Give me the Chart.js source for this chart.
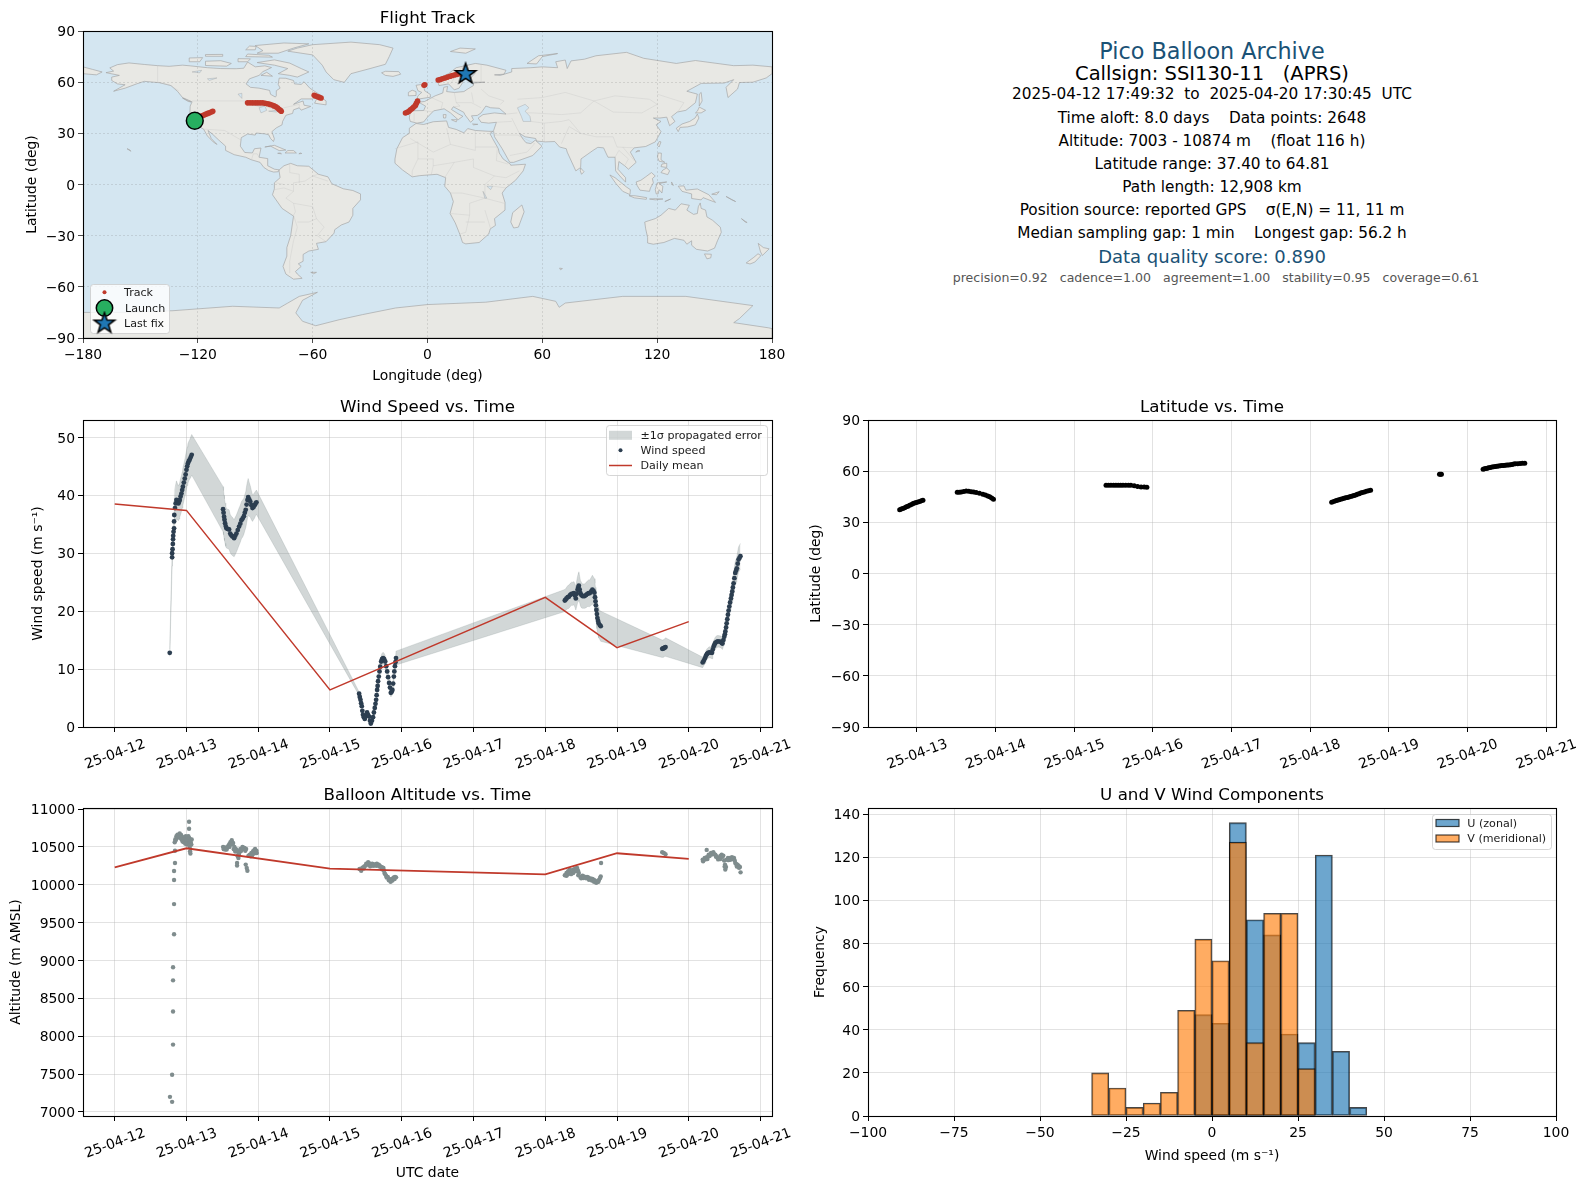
<!DOCTYPE html>
<html>
<head>
<meta charset="utf-8">
<script src="https://cdn.jsdelivr.net/npm/chart.js@4/dist/chart.umd.js"></script>
<style>
  html, body { margin: 0; padding: 0; background: #fff; }
  body { width: 1588px; height: 1189px; position: relative; overflow: hidden; font-family: "DejaVu Sans", sans-serif; }
  canvas { position: absolute; }
  .info { position: absolute; left: 812px; width: 800px; text-align: center; white-space: pre; line-height: 24px; height: 24px; }
</style>
</head>
<body>
<canvas id="mapChart"></canvas>
<canvas id="windChart"></canvas>
<canvas id="altChart"></canvas>
<canvas id="latChart"></canvas>
<canvas id="histChart"></canvas>
<div id="info"></div>
<script>
// ---- text block ----
const infoLines = [
  'Pico Balloon Archive',
  'Callsign: SSI130-11   (APRS)',
  '2025-04-12 17:49:32  to  2025-04-20 17:30:45  UTC',
  'Time aloft: 8.0 days    Data points: 2648',
  'Altitude: 7003 - 10874 m    (float 116 h)',
  'Latitude range: 37.40 to 64.81',
  'Path length: 12,908 km',
  'Position source: reported GPS    \u03c3(E,N) = 11, 11 m',
  'Median sampling gap: 1 min    Longest gap: 56.2 h',
  'Data quality score: 0.890',
  'precision=0.92   cadence=1.00   agreement=1.00   stability=0.95   coverage=0.61'
];

// ---- flight track, [lon, lat] ----
const trackPoints = [
  [-121.6,37.4],[-119.5,39],[-118.3,40],[-117.4,40.5],[-116.5,40.9],[-115.7,41.3],[-114.8,41.7],[-113.9,42.1],[-113,42.5],[-112.2,42.9],
  [-94,47.9],[-92.7,47.9],[-91.4,47.9],[-90,47.9],[-88.7,47.9],[-87.4,47.9],[-86.1,47.9],[-84.8,47.7],[-83.5,47.4],[-82.4,47],[-81.3,46.6],[-80.2,46.1],[-79.2,45.6],[-78.3,44.8],[-77.5,44],[-76.9,43.5],[-76.4,43],
  [-59.2,52.3],[-58.3,51.9],[-57.5,51.5],[-56.5,51.1],[-55.6,50.7],
  [-11.5,41.9],[-10.6,42.4],[-9.7,43],[-8.9,43.8],[-8,44.6],[-7.2,45.5],[-6.3,46.4],[-5.8,47.6],[-5.2,48.9],
  [-1.8,58.2],[-1.4,58.5],
  [5.6,61.3],[6.7,61.6],[7.8,62],[9.1,62.5],[10.5,63],[11.8,63.5],[13,63.9],[14.4,64.3],[15.7,64.6],[17.8,64.7],[19.9,64.8]
];
const launchPoint = [-121.6, 37.4];
const lastFixPoint = [19.9, 64.81];

// ---- wind speed, [day of April, m/s, sigma] ----
const windPoints = [
  [12.767,12.8,.6],[12.8,29.3,1.5],[12.8,30,1.5],[12.806,30.7,1.5],[12.81,31.6,1.5],[12.813,32.4,1.5],[12.815,33,1.5],[12.82,33.7,1.6],[12.827,34.3,1.6],[12.827,35.5,1.8],[12.83,36.6,2.2],[12.84,37.8,3],[12.849,38.6,3.2],[12.86,39.2,3.3],[12.875,38.9,3.1],[12.888,38.6,3],[12.897,38.9,3],[12.906,39.2,3],[12.918,39.8,3.1],[12.93,40.3,3.1],[12.94,40.9,3.1],[12.95,41.5,3.2],[12.963,42.2,3.2],[12.976,42.9,3.2],[12.988,43.6,3.3],[13,44.4,3.3],[13.01,45,3.3],[13.02,45.5,3.4],[13.032,45.9,3.4],[13.045,46.2,3.4],[13.06,46.6,3.5],[13.073,47,3.5],
  [13.51,37.6,3.9],[13.517,37,3.8],[13.524,36.3,3.7],[13.53,35.8,3.6],[13.538,35.2,3.5],[13.547,34.7,3.5],[13.557,34.3,3.4],[13.575,34.2,3.4],[13.594,34.1,3.4],[13.61,33.4,3.3],[13.625,33.1,3.3],[13.64,32.9,3.3],[13.664,32.6,3.2],[13.68,33,3.2],[13.696,33.4,3.2],[13.715,34,3.2],[13.733,34.6,3.2],[13.75,35.1,3.2],[13.766,35.7,3.2],[13.783,36,3.2],[13.8,36.4,3.1],[13.813,37,3.1],[13.826,37.5,3.1],[13.838,38.4,3.2],[13.85,39.2,3.2],[13.86,39.7,3.2],[13.875,39.3,2.9],[13.89,38.9,2.7],[13.905,38.3,2.5],[13.92,37.8,2.3],[13.935,38,2.2],[13.95,38.3,2.2],[13.963,38.6,2.1],[13.975,38.8,2.1],
  [15.406,5.75,.3],[15.415,5.2,.3],[15.425,4.7,.3],[15.434,4.1,.3],[15.443,3.6,.3],[15.451,2.8,.3],[15.46,2.1,.3],[15.472,1.7,.3],[15.485,1.4,.3],[15.5,1.9,.3],[15.517,2.5,.3],[15.53,2.1,.3],[15.545,1.8,.3],[15.558,1.1,.3],[15.569,.6,.3],[15.585,1.1,.3],[15.6,1.7,.3],[15.612,2.5,.4],[15.624,3.3,.4],[15.634,4,.5],[15.643,4.7,.5],[15.65,5.5,.6],[15.657,6.4,.6],[15.664,7.1,.7],[15.67,7.9,.7],[15.68,8.7,.8],[15.69,9.6,.9],[15.7,10.4,.9],[15.713,11.3,1],[15.725,11.7,1],[15.74,11.9,1],[15.755,11.7,1],[15.77,11.3,1],[15.783,10.5,1],[15.797,9.6,.9],[15.81,8.6,.9],[15.824,7.6,.8],[15.836,6.8,.8],[15.848,5.9,.7],[15.86,6.1,.7],[15.87,6.4,.7],[15.88,7.5,.8],[15.89,8.7,.9],[15.897,9.6,.9],[15.905,10.5,1],[15.912,11.2,1],[15.92,11.9,1.2],
  [18.273,21.84,1.9],[18.285,22,1.9],[18.296,22.2,1.9],[18.313,22.4,2],[18.33,22.5,2],[18.348,22.8,2],[18.366,23,2],[18.383,23,2],[18.4,23.1,2],[18.413,22.7,2],[18.426,22.2,2],[18.438,23,2.2],[18.45,23.7,2.3],[18.46,24.1,2.4],[18.468,24.4,2.4],[18.48,23.7,2.3],[18.49,23.1,2.2],[18.503,22.8,2.2],[18.518,22.6,2.1],[18.535,22.6,2.1],[18.55,22.6,2.1],[18.57,22.8,2.2],[18.588,23,2.2],[18.605,23.1,2.3],[18.62,23.1,2.3],[18.64,23.4,2.4],[18.657,23.7,2.5],[18.672,23.5,2.4],[18.685,23.2,2.4],[18.693,22.4,2.4],[18.7,21.7,2.4],[18.706,21,2.4],[18.713,20.2,2.4],[18.72,19.5,2.5],[18.727,18.8,2.5],[18.736,18.3,2.5],[18.745,17.9,2.5],[18.76,17.6,2.5],[18.773,17.4,2.6],
  [19.63,13.5,1.5],[19.642,13.55,1.5],[19.653,13.6,1.5],[19.665,13.7,1.5],[19.676,13.8,1.6],
  [20.194,11.15,.9],[20.21,11.5,.9],[20.227,11.9,.9],[20.24,12.3,.9],[20.255,12.6,.9],[20.27,12.8,.9],[20.287,12.9,.95],[20.305,12.85,.95],[20.324,12.8,1],[20.335,13.4,1],[20.347,13.9,1],[20.358,14.2,1],[20.37,14.5,1],[20.388,14.7,1.05],[20.407,14.8,1],[20.43,14.75,1],[20.449,14.7,1],[20.46,14.5,1],[20.47,14.4,1],[20.483,15,1.05],[20.495,15.6,1.1],[20.503,16,1.1],[20.51,16.5,1.1],[20.52,17.2,1.2],[20.528,17.9,1.2],[20.537,18.6,1.3],[20.546,19.4,1.4],[20.555,20.1,1.4],[20.565,20.8,1.5],[20.576,21.5,1.5],[20.588,22.2,1.6],[20.597,22.8,1.7],[20.606,23.4,1.7],[20.615,24.1,1.8],[20.625,24.8,1.8],[20.636,25.7,1.9],[20.648,26.6,2],[20.66,27,2],[20.67,27.4,2],[20.682,28.2,2.1],[20.694,28.9,2.2],[20.707,29.2,2.2],[20.72,29.5,2.2]
];
const windDailyMean = [[12,38.5],[13,37.4],[15,6.4],[18,22.4],[19,13.7],[20,18.2]];

// ---- altitude, [day of April, m] ----
const altPoints = [
  [12.77,7200],[12.8,7134],[12.8,7492],[12.813,7890],[12.813,8327],[12.813,8738],[12.813,8910],[12.827,9347],[12.827,9745],[12.827,10063],[12.827,10182],[12.84,10288],[12.84,10450],
  [13.036,10831],[13.036,10739],
  [12.836,10562],[12.85,10588],[12.869,10619],[12.888,10650],[12.906,10677],[12.925,10659],[12.943,10632],[12.962,10606],[12.98,10575],[12.999,10553],[13.008,10531],[13.018,10597],[13.027,10553],[13.036,10619],[13.055,10597],[13.073,10597],[13.046,10500],[13.05,10443],[13.055,10412],[12.99,10641],[13.027,10641],[12.95,10590],[12.97,10620],[13.005,10600],[13.045,10580],
  [12.845,10600],[12.86,10640],[12.875,10660],[12.895,10640],[12.915,10620],[12.93,10600],[12.945,10570],[12.965,10560],[12.985,10540],[13,10600],[13.015,10630],[13.06,10560],[13.068,10530],
  [13.51,10500],[13.525,10490],[13.538,10491],[13.552,10490],[13.566,10491],[13.58,10510],[13.594,10531],[13.612,10562],[13.631,10588],[13.65,10553],[13.668,10500],[13.687,10473],[13.7,10460],[13.715,10443],[13.733,10412],[13.752,10473],[13.78,10500],[13.795,10490],[13.808,10487],[13.831,10473],[13.715,10376],[13.724,10354],[13.705,10288],[13.705,10253],[13.826,10266],[13.84,10222],[13.849,10186],[13.882,10398],[13.905,10420],[13.928,10443],[13.956,10473],[13.975,10451],[13.966,10420],[13.928,10412],[13.945,10455],[13.865,10385],
  [13.52,10470],[13.54,10465],[13.56,10465],[13.6,10500],[13.62,10535],[13.64,10535],[13.66,10470],[13.68,10440],[13.725,10400],[13.76,10445],[13.79,10470],[13.82,10450],[13.895,10375],[13.915,10390],[13.94,10415],[13.96,10445],[13.98,10420],
  [15.412,10208],[15.435,10186],[15.449,10222],[15.465,10232],[15.481,10244],[15.505,10279],[15.532,10297],[15.56,10266],[15.588,10279],[15.62,10253],[15.653,10279],[15.68,10266],[15.713,10235],[15.745,10222],[15.759,10155],[15.782,10120],[15.806,10102],[15.829,10076],[15.852,10058],[15.875,10085],[15.907,10102],[15.921,10098],[15.545,10285],[15.605,10270],[15.635,10268],[15.695,10250],[15.73,10228],[15.77,10140],[15.89,10095],
  [15.47,10215],[15.5,10255],[15.525,10270],[15.56,10245],[15.6,10250],[15.65,10250],[15.69,10240],[15.725,10205],[15.75,10190],[15.79,10095],[15.82,10060],[15.845,10040],[15.87,10055],[15.9,10075],
  [18.273,10125],[18.296,10155],[18.319,10178],[18.343,10200],[18.366,10164],[18.389,10200],[18.417,10217],[18.444,10222],[18.468,10155],[18.491,10102],[18.519,10120],[18.551,10102],[18.583,10102],[18.62,10085],[18.657,10076],[18.69,10058],[18.722,10036],[18.75,10067],[18.773,10111],[18.778,10288],[18.296,10120],[18.343,10155],[18.389,10155],[18.43,10180],[18.455,10190],[18.6,10095],[18.64,10080],[18.675,10066],[18.705,10048],[18.535,10110],
  [18.31,10135],[18.33,10150],[18.36,10140],[18.4,10175],[18.43,10195],[18.46,10125],[18.5,10085],[18.53,10090],[18.57,10085],[18.61,10065],[18.65,10055],[18.68,10040],[18.71,10025],[18.74,10040],[18.765,10090],
  [19.63,10429],[19.653,10420],[19.676,10403],
  [20.194,10332],[20.222,10354],[20.25,10363],[20.278,10398],[20.31,10420],[20.343,10429],[20.37,10398],[20.403,10354],[20.426,10354],[20.458,10398],[20.481,10385],[20.505,10266],[20.509,10200],[20.519,10235],[20.528,10332],[20.546,10354],[20.574,10354],[20.602,10363],[20.63,10354],[20.648,10288],[20.68,10266],[20.713,10235],[20.722,10164],[20.25,10460],[20.39,10375],[20.442,10380],[20.493,10320],[20.66,10275],[20.695,10250],
  [20.2,10310],[20.23,10335],[20.26,10340],[20.29,10380],[20.32,10400],[20.35,10405],[20.38,10370],[20.41,10335],[20.44,10340],[20.47,10370],[20.55,10325],[20.58,10330],[20.61,10340],[20.64,10320],[20.67,10240],[20.7,10225],[20.5,10240]
];
const altDailyMean = [[12,10230],[13,10482],[15,10213],[18,10138],[19,10416],[20,10341]];

// ---- latitude, [day of April, deg] ----
const latPoints = [
  [12.78,37.45],[12.8,37.8],[12.82,38.2],[12.843,38.6],[12.865,39.1],[12.885,39.5],[12.907,40],[12.93,40.5],[12.95,41],[12.97,41.4],[12.99,41.7],[13.012,42],[13.034,42.2],[13.055,42.6],[13.076,42.9],
  [13.512,47.6],[13.537,47.7],[13.563,47.8],[13.595,48.1],[13.626,48.4],[13.658,48.2],[13.69,48],[13.72,47.8],[13.753,47.5],[13.795,47],[13.838,46.5],[13.87,46],[13.9,45.5],[13.925,45],[13.95,44.3],[13.973,43.5],
  [15.404,51.8],[15.435,51.8],[15.467,51.8],[15.5,51.8],[15.53,51.8],[15.56,51.8],[15.59,51.8],[15.62,51.8],[15.655,51.8],[15.69,51.8],[15.72,51.8],[15.763,51.4],[15.806,51],[15.85,50.8],[15.89,50.7],[15.924,50.6],
  [18.274,41.8],[18.3,42.2],[18.325,42.7],[18.346,43],[18.367,43.3],[18.388,43.6],[18.41,43.9],[18.431,44.15],[18.452,44.4],[18.473,44.65],[18.494,44.9],[18.515,45.2],[18.537,45.5],[18.558,45.8],[18.58,46.1],[18.6,46.45],[18.622,46.8],[18.643,47.15],[18.663,47.5],[18.69,47.85],[18.716,48.2],[18.742,48.5],[18.769,48.8],
  [19.645,58.2],[19.658,58.2],[19.67,58.2],
  [20.2,61.2],[20.217,61.4],[20.235,61.6],[20.252,61.8],[20.27,62],[20.291,62.2],[20.313,62.4],[20.335,62.55],[20.356,62.7],[20.377,62.85],[20.398,63],[20.419,63.15],[20.44,63.3],[20.462,63.4],[20.483,63.5],[20.504,63.6],[20.525,63.7],[20.547,63.85],[20.568,64],[20.589,64.15],[20.61,64.3],[20.64,64.4],[20.67,64.5],[20.7,64.6],[20.73,64.7]
];

// ---- histogram, 5 m/s bins ----
const binCenters = [-32.5,-27.5,-22.5,-17.5,-12.5,-7.5,-2.5,2.5,7.5,12.5,17.5,22.5,27.5,32.5,37.5,42.5];
const uCounts = [0,0,0,0,0,0,47,43,136,91,84,38,34,121,30,4];
const vCounts = [20,13,4,6,11,49,82,72,127,34,94,94,22,0,0,0];

// ---- base map outlines, [lon, lat] ----
const landPolygons = [
  // North America
  [[-168,65.6],[-164,66.5],[-166,68.4],[-162,70.3],[-156,71.3],[-148,70.4],[-141,69.7],[-135,69.3],[-128,70],[-124,69.6],[-115,68.5],[-108,68],[-100,67.9],[-96,68.2],[-94,71.8],[-90,69],[-85,69.6],[-81.5,68.6],[-86,66.2],[-88,64],[-93,62],[-94.8,59],[-92.5,57],[-88,56.5],[-82.5,55.2],[-82,52.9],[-79.5,51.3],[-79,52],[-79,55],[-77,56.5],[-78,58.7],[-77.5,62.4],[-74,62.3],[-70,61],[-69.5,59],[-66,58.7],[-64.5,60.3],[-61.5,56.5],[-56,52.5],[-60,50.2],[-66,50.2],[-70,47],[-65,49],[-64.5,46.5],[-61,45.8],[-66,43.6],[-67,45],[-70,43.8],[-70.5,41.7],[-74,40.6],[-75.7,37],[-76,35],[-79,33.2],[-81.3,31],[-80,26.8],[-80.5,25.2],[-82,27],[-83,29.2],[-85,29.7],[-89.5,30.2],[-90,29],[-94,29.6],[-97.3,27.5],[-97.8,22.5],[-95.5,18.8],[-91.5,18.5],[-90.4,21],[-87,21.4],[-88,16],[-83.5,15.2],[-83.5,11],[-80,9],[-77.5,8.6],[-78,7.5],[-80.4,7.3],[-83,8.2],[-85.5,10],[-87.5,13],[-92,14.5],[-95,16],[-101,17.5],[-105.5,20],[-105.5,22.5],[-109,26],[-112.5,29.7],[-114.7,31.7],[-113,27],[-110,23.5],[-112,25],[-115,28.5],[-117,32.5],[-120.5,34.5],[-122.5,37.5],[-124.2,40.5],[-124,46],[-123,48.5],[-128,51],[-130.5,54.5],[-134,58],[-140,59.7],[-148,60.5],[-152,59],[-158,56.5],[-164,54.7],[-158,58.5],[-162,59],[-165,61],[-165,63],[-161,64]],
  // Arctic Canada
  [[-62,66],[-68,63],[-72,64],[-78,65],[-73,68],[-80,70],[-89,71.5],[-80,73.1],[-72,71.2],[-66,68]],
  [[-116,69.8],[-105,69.4],[-102.5,71],[-108,72.6],[-116,72.3]],
  [[-124.5,72],[-119,72],[-117.5,74.4],[-124.5,74.2]],
  [[-89,77],[-78,77],[-70,80],[-62,82.5],[-75,83],[-90,81.5],[-86,78.5]],
  [[-95,75],[-81,74.7],[-83,75.8],[-94,76.5]],
  [[-116,75.2],[-107,75.2],[-107,76.3],[-116,76.2]],
  [[-95,79],[-90,79],[-89.5,81],[-93,81.2]],
  [[-99,72],[-94,72],[-92.5,73.7],[-99,73.8]],
  [[-87,64],[-81,63.5],[-84,65.8]],
  [[-59,47.7],[-53,46.7],[-53,49],[-56,51.5],[-58,50]],
  [[-128,50.7],[-123.5,48.4],[-125,48.7]],
  // Greenland, Iceland
  [[-73,78.2],[-60,76],[-55,70],[-53,66],[-49,61.5],[-43.5,59.9],[-40,65],[-30,68],[-22,70.5],[-20,75],[-18,80],[-25,82],[-40,83.5],[-60,82],[-68,80]],
  [[-24,65.5],[-22,64],[-18,63.4],[-14,64.7],[-15,66.2],[-22,66.4]],
  // Caribbean
  [[-85,22],[-80,23],[-74,20.2],[-77.5,19.9],[-82,22.5]],
  [[-74.4,18.5],[-68.5,18.5],[-70,19.9],[-73,19.9]],
  [[-78.3,18.3],[-76.3,18],[-77,18.5]],
  [[-67.2,18],[-65.7,18.2],[-66.5,18.5]],
  // South America
  [[-77.5,8.6],[-75,11],[-71.5,12.4],[-68,11],[-62,10.7],[-57,6],[-52,4.5],[-50,.5],[-44,-2.5],[-39,-3.5],[-35,-5.5],[-35,-9],[-39,-14],[-39,-18],[-41,-22],[-45,-23.7],[-48.5,-26.5],[-48.8,-28.5],[-53,-33.5],[-58,-34.5],[-57,-38],[-62,-39],[-65,-41],[-65,-45],[-67.5,-46.5],[-66,-48],[-69,-51],[-68,-52.5],[-65.5,-55],[-70,-55.5],[-74,-52.5],[-75.5,-48],[-73.5,-42],[-73.5,-37],[-71.5,-30],[-70,-18.5],[-76,-14],[-81,-6],[-80,-2.5],[-80,1],[-77,4],[-77.5,7.5]],
  // Africa
  [[-6,35.8],[-2,35.2],[3,36.8],[10,37.3],[11,33.5],[15,32.3],[19,30.3],[21,32.8],[25,31.7],[32,31.2],[34.2,31.2],[32.6,29.9],[34,27],[37,21],[37.5,18.5],[39.5,15],[43.2,12],[43.5,11.3],[51.2,11.9],[50,8],[46,2.5],[41,-2],[39,-5],[40.5,-10.5],[40.5,-15],[35,-20],[35.5,-24],[32.8,-26],[32,-29],[27,-34],[20,-34.8],[18.3,-34],[17,-29.5],[14.5,-22.5],[11.8,-17],[13.5,-10],[12,-5],[9,-1],[9.5,4],[5,6],[-4,5.2],[-8,4.5],[-13,8.5],[-17,12.5],[-17,15],[-16,21],[-13,27.5],[-9.5,30],[-9.5,33]],
  // Eurasia
  [[-9,37],[-9.5,39],[-9,43.2],[-2,43.4],[-1,46],[-4.7,48.3],[-1.5,48.7],[1.5,50.5],[4,52],[8,53.7],[8.5,57],[10.5,57.5],[10,54.5],[14,54],[19,54.5],[21,56],[24,58],[24,59.5],[30,60],[23,60],[21.5,61],[25,65.5],[22,65.8],[17.5,62],[18.5,60],[16.5,56.5],[14,55.5],[11,59],[6,58],[5,62],[11,65],[15,68.5],[25,71],[31,70],[41,67],[40,64.7],[35,64.3],[38,64],[44,66],[44,68],[54,68.5],[60,69],[68,68.5],[67,72],[72,73],[73,68],[75,72.5],[82,73.5],[88,75.5],[104,77.5],[113,74],[130,71],[140,72.7],[160,69.7],[170,70],[180,69],[180,65],[177,62.5],[170,60],[163,59.8],[162,56],[157,51],[156,57],[160,61.5],[155,59.5],[143,59.3],[135.5,54.7],[141,53],[140,48],[135,43.5],[130.5,42.5],[127.5,39.8],[129.3,37],[126.5,34.5],[125,39.5],[121.5,39],[118,39],[122,37],[119.5,35],[122,31],[119,25],[114,22.3],[108,21.5],[106,19],[109,13],[105,9],[103,11],[100,13.5],[99.5,9],[103.5,4],[103.5,1.4],[100.5,5],[98.3,8],[98,16],[94.3,16],[92,21.5],[89,21.8],[86.5,20],[80.2,15],[80,10],[77.5,8],[73,19],[72.5,21],[69,22],[66.5,25.2],[61.5,25],[57,25.5],[56.5,27],[51,28],[48,30],[50,26.5],[51.5,24.5],[54,24],[56.3,26],[59.8,22.5],[55,17],[45,13],[43,13],[39,21],[35,28],[34.5,31.5],[36,36.5],[32,36],[28,36.5],[26.5,39],[29,41],[35,42],[41,41.3],[37.5,44.7],[33,45],[30.5,46],[28,42],[26,40.5],[23,40.3],[24,38],[22.5,36.5],[19.5,41],[19,42.3],[13.5,45.6],[12.5,44],[16,41.5],[18.5,40],[16,38],[12,42],[8.7,44.4],[3.2,43.2],[0,39.5],[-2,36.7],[-5.5,36]],
  [[-180,69],[-175,67.5],[-170,66],[-173,64.3],[-180,65]],
  // European islands
  [[-5.5,50],[1.5,51.2],[1.5,52.8],[-1.5,55],[-2,57.5],[-3.5,58.6],[-6,58.2],[-5,55],[-3,54],[-5,52]],
  [[-10,52],[-6,52.2],[-6,54.5],[-8,55.3],[-10,54]],
  [[12,78],[20,77],[25,79.5],[17,80]],
  [[52,71],[57,70.7],[60,75],[68,76.8],[58,75.5]],
  [[12.5,38],[15.5,38],[15,36.7]],
  [[8.2,41],[9.7,41],[9.5,39],[8.4,39]],
  [[23.5,35.5],[26.3,35.3],[24,35]],
  // Asia, Indian Ocean
  [[49.3,-12],[50.5,-16],[47.5,-25],[45,-25.5],[43.5,-22],[44.5,-16.5]],
  [[80,9.7],[81.8,7.5],[80.5,6],[79.8,8]],
  [[130,33],[131,31],[132,33.5],[136,33.8],[140,35],[141.8,39],[141,41.3],[139.8,39],[137,37],[133,35.5]],
  [[140,42],[143,42],[145.3,43.5],[142,45.4],[141,43]],
  [[142,46],[143.5,49],[143,54],[142,53]],
  [[120.2,23],[121,22],[122,25],[121,25.2]],
  [[108.8,19],[111,19.7],[110,20.1]],
  [[120.2,16],[120.5,18.5],[122.2,18.4],[122,14.5],[124,13],[121,13.7]],
  [[122,7],[125.5,5.8],[126.5,8],[125,9.7],[123,8.5]],
  [[122,10.5],[125,10],[125,12.5],[122.5,12]],
  [[95.3,5.6],[98,4],[104,-1.5],[106,-3],[105.8,-5.9],[102,-4],[98.5,.5]],
  [[105.3,-6.5],[108.5,-6.6],[114.5,-7.7],[114.3,-8.7],[108,-7.8]],
  [[109,1.5],[111.5,2.5],[114,4.5],[117,7],[119,5],[117.5,3.5],[118,1],[116.5,-2],[116,-4],[111,-3.3],[109.5,-.5]],
  [[119.5,-5.5],[119,-3],[120,1],[125,1.5],[121,.5],[123,-1],[122.5,-5],[121,-3],[120.5,-5.5]],
  [[131,-1],[134,-.8],[135,-3.3],[141,-2.6],[147,-6],[150.5,-10.5],[144,-7.7],[143,-9],[138,-8.2],[138,-5.5],[133,-4],[132,-2.5]],
  [[116,-8.5],[119,-8.3],[123,-8.5],[119,-9]],
  [[124,-10],[127,-8.5],[125,-9.5]],
  [[127.5,1.5],[128.5,-.5],[127.7,0]],
  [[148.5,-5.7],[152.4,-4.2],[151,-6]],
  [[156,-7],[161,-10],[159,-9]],
  [[164,-20],[167,-22.3],[166,-22]],
  // Australia, New Zealand
  [[113.5,-22],[114,-26],[115,-31],[115,-34.3],[118,-35],[123.5,-34],[129,-31.6],[134,-32.7],[135.5,-35],[138,-33],[138,-35.6],[140.5,-38],[146.4,-39],[150,-37.3],[151.5,-33],[153.5,-28],[153,-25],[149,-21],[146,-19],[145.3,-15],[143,-14],[142.5,-10.8],[141.5,-13],[141,-17],[139,-17.5],[135.5,-15],[136.8,-12.2],[132.5,-11.3],[129.5,-15],[126,-14],[122,-18],[119,-20],[114,-21.8]],
  [[144.7,-40.7],[148.3,-40.9],[148,-43],[146,-43.6]],
  [[172.8,-34.5],[175.5,-37],[178.5,-37.7],[175,-41.6],[174,-39.5]],
  [[172.7,-40.6],[174.2,-41.7],[171,-45.5],[168.5,-46.6],[166.5,-46],[170.5,-42.7]],
  [[69,-49],[70.5,-49.3],[69.5,-50]],
  [[-61,-51.5],[-58,-51.5],[-59.5,-52.3]],
  [[-157,21],[-155,19.5],[-155.5,20.3]],
  // Antarctica
  [[-180,-75],[-160,-75],[-133,-74],[-101.8,-71.4],[-77.5,-72.4],[-73,-69.5],[-67,-65.6],[-57.5,-63.2],[-65.3,-67.9],[-68.8,-75.3],[-65.3,-80.2],[-58.4,-82.8],[-46.2,-79.3],[-34,-76.3],[-16.7,-72.4],[0,-70.4],[30.5,-69],[55,-65.6],[67,-68.5],[68.8,-72],[72,-69.5],[102,-65.6],[135,-65.6],[170,-71],[163,-78.6],[160,-81],[178,-84],[180,-84.5],[180,-90],[-180,-90]]
];
const lakePolygons = [
  [[47,45],[51,47],[53,45],[51,43],[53.5,40],[54,37],[50,37],[49,40]],
  [[-92,46.7],[-85,47],[-85,46],[-88,46]],
  [[-88,45],[-85,46],[-84,43.5],[-87,42]],
  [[-83,43],[-79,43.5],[-76,44],[-79,42.5]],
  [[31,-1],[34,-1],[33,-3]],
  [[29,-4],[31,-8],[30,-8]],
  [[-123,66],[-118,67],[-119,65.5]],
  [[-115,62],[-110,62.5],[-114,61]],
  [[-99,53],[-97,53.5],[-97,50.5]]
];
const borderLines = [
  [[-123,49],[-95,49],[-89,48],[-82.5,45],[-79,43],[-75,45],[-67,47],[-67,45]],
  [[-141,70],[-141,60],[-135,58.5],[-130,55]],
  [[-117,32.5],[-106,31.7],[-97.3,26]],
  [[-92,14.5],[-91,18],[-89,18],[-88,16]],
  [[-60,5],[-64,2],[-70,1],[-70,-4],[-74,-8],[-70,-11],[-60,-13],[-58,-20],[-54,-25],[-57.6,-30],[-53,-33.5]],
  [[-52,2],[-60,5]],[[-57,6],[-60,5]],
  [[-70,-18],[-68,-25],[-70,-33],[-72,-45],[-72,-52]],
  [[-70,-11],[-69,-16],[-70,-18]],
  [[-72,12],[-72,7],[-67,6],[-67,1]],
  [[-58,-20],[-62,-22],[-68,-22]],
  [[-80,-3],[-75,-2],[-70,-4]],[[-79,1],[-75,0]],
  [[-9,27],[3,19],[12,23.5],[10,33]],
  [[12,23.5],[25,20],[25,31.7]],
  [[25,22],[36.5,22]],
  [[24,15],[24,10],[35,5],[41,4],[48,8]],
  [[-17,21],[-5,25],[-5,15],[3,15],[3,11],[14,13],[24,15]],
  [[14,13],[9,4]],[[3,11],[2,6]],[[-5,15],[-8,8],[-8,4.5]],
  [[12,-5],[18,-5],[30,-8],[30,0],[35,5]],
  [[30,-8],[22,-11],[22,-18],[12,-17]],
  [[22,-18],[20,-28],[17,-29]],
  [[30,-15],[33,-26]],[[20,-22],[30,-22]],[[30,-8],[40,-11]],[[34,-1],[41,-2]],
  [[36.5,22],[36,14],[42,12]],
  [[-2,43.4],[3,42.5]],[[-7,37],[-7,42]],
  [[2,51],[8,48],[7,44]],
  [[14,54],[15,48],[17,46],[13.5,45.6]],[[15,48],[23,48],[28,45]],[[23,54],[24,48]],
  [[28,60],[28,70]],[[12,59],[18,69]],
  [[28,56],[32,52],[40,49],[38,47]],
  [[47,42],[41,41.3]],
  [[47,50],[60,51],[72,54],[87,49],[80,42],[70,41],[55,42],[52,42]],
  [[87,49],[98,52],[116,50],[120,47],[112,42],[97,42.5],[87,49]],
  [[120,53],[134,48],[131,43]],
  [[74,38],[80,30],[88,28],[97,28],[99,22],[108,21.5]],
  [[74,34],[70,24]],[[80,30],[74,34]],
  [[44,39],[48,30]],[[61,36],[61,25]],[[54,37],[61,36],[70,37],[74,38]],
  [[35,29],[47,29],[56,24],[52,19],[43,17]],
  [[36,36.5],[44,37]],
  [[98,16],[100,20],[105,15],[103,11]],[[102,22],[108,14]]
];

// ---- axis ticks ----
const lonStep = 60, latStep = 30, dayStep = 1, windStep = 10, countStep = 20, speedStep = 25;
const altTicks = [7000,7500,8000,8500,9000,9500,10000,10500,11000];

// ---- layout ----
const PANELS = {
  mapChart:  { l: 83,  t: 31,  r: 772,  b: 338,  titleX: 32.5, xH: 47 },
  windChart: { l: 83,  t: 420, r: 772,  b: 727,  titleX: 38.5, xH: 62 },
  altChart:  { l: 83,  t: 808, r: 772,  b: 1116, titleX: 16.5, xH: 66 },
  latChart:  { l: 868, t: 420, r: 1556, b: 727,  titleX: 816,  xH: 62 },
  histChart: { l: 868, t: 808, r: 1556, b: 1116, titleX: 820,  xH: 49 }
};
const TITLE_H = 28, RIGHT_PAD = 31;
const INFO_STYLE = [
  [22.3, '#1a5276', 50.7],[19.5, '#000', 73.8],[15.3, '#000', 94.3],[15.3, '#000', 117.6],[15.3, '#000', 140.9],
  [15.3, '#000', 164],[15.3, '#000', 186.5],[15.3, '#000', 209.8],[15.3, '#000', 233.1],[18, '#1a5276', 257.4],[12.55, '#555', 277.7]
];
const COL = {
  red: '#c0392b', navy: '#2c3e50', grey: '#7f8c8d', green: '#27ae60', blue: '#1f77b4',
  ocean: '#d4e6f1', land: '#e8e8e4', coast: 'rgba(160,160,160,0.8)', border: 'rgba(190,190,190,0.5)',
  grid: 'rgba(176,176,176,0.36)', band: 'rgba(127,140,141,0.35)', bandEdge: 'rgba(127,140,141,0.22)',
  histU: 'rgba(31,119,180,0.65)', histV: 'rgba(255,127,14,0.65)', histEdge: 'rgba(0,0,0,0.72)'
};

Chart.defaults.font.family = '"DejaVu Sans", sans-serif';
Chart.defaults.font.size = 13.9;
Chart.defaults.color = '#000';
Chart.defaults.animation = false;

const toXY = list => list.map(p => ({ x: p[0], y: p[1] }));
const minusFmt = v => String(v).replace('-', '\u2212');
const dateFmt = v => '25-04-' + String(v).padStart(2, '0');

function tracePath(g, cx, cy, outer, inner) {
  g.beginPath();
  for (let i = 0; i < 10; i++) {
    const r = i % 2 ? inner : outer;
    const a = -Math.PI / 2 + i * Math.PI / 5;
    g[i ? 'lineTo' : 'moveTo'](cx + r * Math.cos(a), cy + r * Math.sin(a));
  }
  g.closePath();
}
function makeStar(outer, inner, fill) {
  const size = Math.ceil(outer * 2 + 4);
  const c = document.createElement('canvas');
  c.width = size; c.height = size;
  const g = c.getContext('2d');
  tracePath(g, size / 2, size / 2, outer, inner);
  g.fillStyle = fill; g.fill();
  g.lineWidth = 1.5; g.strokeStyle = '#000'; g.lineJoin = 'miter'; g.stroke();
  return c;
}
const starIcon = makeStar(10.8, 4.3, COL.blue);

// frame round the plot, all four sides
const framePlugin = {
  id: 'frame',
  afterDraw(chart) {
    const a = chart.chartArea, g = chart.ctx;
    g.save();
    g.strokeStyle = '#000'; g.lineWidth = 1.1;
    g.strokeRect(Math.round(a.left) + .5, Math.round(a.top) + .5, Math.round(a.right - a.left), Math.round(a.bottom - a.top));
    g.restore();
  }
};

// land, lakes and borders through the chart's own scales
const worldMapPlugin = {
  id: 'worldMap',
  beforeDraw(chart) {
    const { ctx: g, chartArea: a, scales: { x, y } } = chart;
    const trace = (pts, close) => {
      g.beginPath();
      pts.forEach((p, i) => g[i ? 'lineTo' : 'moveTo'](x.getPixelForValue(p[0]), y.getPixelForValue(p[1])));
      if (close) g.closePath();
    };
    g.save();
    g.beginPath(); g.rect(a.left, a.top, a.right - a.left, a.bottom - a.top); g.clip();
    g.fillStyle = COL.ocean;
    g.fillRect(a.left, a.top, a.right - a.left, a.bottom - a.top);
    g.lineJoin = 'round';
    landPolygons.forEach(poly => {
      trace(poly, true);
      g.fillStyle = COL.land; g.fill();
      g.strokeStyle = COL.coast; g.lineWidth = .8; g.stroke();
    });
    lakePolygons.forEach(poly => {
      trace(poly, true);
      g.fillStyle = COL.ocean; g.fill();
      g.strokeStyle = COL.coast; g.lineWidth = .5; g.stroke();
    });
    g.strokeStyle = COL.border; g.lineWidth = .6;
    borderLines.forEach(line => { trace(line, false); g.stroke(); });
    g.restore();
  }
};

function canvasOrigin(id) {
  const p = PANELS[id];
  return { x: Math.round(p.titleX - 8.35), y: p.t - TITLE_H };
}

// legend sitting inside the axes; box and keys are in page pixels
function insideLegend(panelId, box, keys) {
  return {
    id: 'insideLegend',
    afterDraw(chart) {
      const p = canvasOrigin(panelId), g = chart.ctx;
      const bx = box.x - p.x, by = box.y - p.y;
      g.save();
      g.beginPath(); g.roundRect(bx + .5, by + .5, box.w, box.h, 3);
      g.fillStyle = 'rgba(255,255,255,0.8)'; g.fill();
      g.strokeStyle = 'rgba(204,204,204,0.8)'; g.lineWidth = 1; g.stroke();
      keys.forEach(k => {
        const ds = chart.data.datasets[k.ds];
        const ky = k.y - p.y, mx = k.mx - p.x;
        if (k.kind === 'dot') {
          g.beginPath(); g.arc(mx, ky, k.r, 0, Math.PI * 2); g.fillStyle = k.color; g.fill();
        } else if (k.kind === 'circle') {
          g.beginPath(); g.arc(mx, ky, k.r, 0, Math.PI * 2); g.fillStyle = k.color; g.fill();
          g.lineWidth = 1.5; g.strokeStyle = '#000'; g.stroke();
        } else if (k.kind === 'star') {
          g.drawImage(starIcon, mx - starIcon.width / 2, ky - starIcon.height / 2);
        } else if (k.kind === 'patch') {
          g.fillStyle = k.color; g.fillRect(mx - 11.5, ky - k.h / 2, 23, k.h);
          if (k.edge) { g.strokeStyle = k.edge; g.lineWidth = 1.2; g.strokeRect(mx - 11.5, ky - k.h / 2, 23, k.h); }
        } else if (k.kind === 'line') {
          g.strokeStyle = k.color; g.lineWidth = 1.5;
          g.beginPath(); g.moveTo(mx - 11.5, ky); g.lineTo(mx + 11.5, ky); g.stroke();
        }
        g.fillStyle = '#1a1a1a';
        g.font = '11.1px "DejaVu Sans", sans-serif';
        g.textAlign = 'left'; g.textBaseline = 'middle';
        g.fillText(ds.label, k.tx - p.x, ky + 1);
      });
      g.restore();
    }
  };
}

function placeCanvas(id) {
  const p = PANELS[id], o = canvasOrigin(id), c = document.getElementById(id);
  c.style.left = o.x + 'px';
  c.style.top = o.y + 'px';
  c.width = p.r - o.x + RIGHT_PAD;
  c.height = TITLE_H + (p.b - p.t) + p.xH;
  return c;
}

function baseOptions(id, title, xScale, yScale) {
  const p = PANELS[id], o = canvasOrigin(id);
  return {
    responsive: false,
    animation: false,
    events: [],
    layout: { padding: { left: 0, top: 0, bottom: 0, right: RIGHT_PAD } },
    plugins: {
      legend: { display: false },
      tooltip: { enabled: false },
      title: {
        display: true, text: title, fullSize: false, color: '#000',
        font: { size: 16.7, weight: 'normal', lineHeight: 1.2 }, padding: { top: 6, bottom: 2 }
      }
    },
    scales: {
      x: Object.assign({ type: 'linear', afterFit: s => { s.height = p.xH; } }, xScale),
      y: Object.assign({ type: 'linear', afterFit: s => { s.width = p.l - o.x; } }, yScale)
    }
  };
}

const gridOpts = { color: COL.grid, lineWidth: 1, tickColor: '#000', tickLength: 5 };
const mapGrid = { color: 'rgba(120,120,120,0.3)', lineWidth: .7, tickColor: '#000', tickLength: 5 };
const axisTitle = text => ({ display: true, text, color: '#000', padding: 0, font: { size: 13.9, lineHeight: 1.2 } });

function dayAxis(min, max, titleText) {
  const ax = {
    min, max,
    grid: gridOpts, border: { display: false },
    ticks: { stepSize: dayStep, includeBounds: false, autoSkip: false, minRotation: 20, maxRotation: 20, padding: 4, labelOffset: 30, callback: dateFmt }
  };
  if (titleText) ax.title = axisTitle(titleText);
  return ax;
}
function valueAxis(min, max, step, titleText, grid, fmt) {
  return {
    min, max,
    grid: grid || gridOpts, border: { display: false },
    ticks: { stepSize: step, includeBounds: false, autoSkip: false, padding: 3, labelOffset: 1.5, callback: fmt || (v => String(v)) },
    title: axisTitle(titleText)
  };
}

// ---- flight track ----
{
  const id = 'mapChart', canvas = placeCanvas(id);
  new Chart(canvas, {
    type: 'scatter',
    data: { datasets: [
      { label: 'Track', data: toXY(trackPoints), backgroundColor: COL.red, borderWidth: 0, pointRadius: 2.8, order: 3 },
      { label: 'Launch', data: toXY([launchPoint]), backgroundColor: COL.green, borderColor: '#000', borderWidth: 1.5, pointRadius: 8.4, order: 2 },
      { label: 'Last fix', data: toXY([lastFixPoint]), pointStyle: starIcon, pointRadius: 11, order: 1 }
    ] },
    options: baseOptions(id, 'Flight Track',
      {
        min: -180, max: 180, grid: mapGrid, border: { display: false, dash: [2, 2] },
        ticks: { stepSize: lonStep, autoSkip: false, maxRotation: 0, padding: 4, callback: minusFmt },
        title: axisTitle('Longitude (deg)')
      },
      Object.assign(valueAxis(-90, 90, latStep, 'Latitude (deg)', mapGrid, minusFmt), { border: { display: false, dash: [2, 2] } })),
    plugins: [worldMapPlugin, framePlugin, insideLegend(id, { x: 90, y: 284, w: 79, h: 49 }, [
      { ds: 0, kind: 'dot', color: COL.red, r: 2, mx: 104.5, tx: 124, y: 292.3 },
      { ds: 1, kind: 'circle', color: COL.green, r: 8.2, mx: 104.5, tx: 125, y: 308 },
      { ds: 2, kind: 'star', mx: 104.5, tx: 124, y: 323.5 }
    ])]
  });
}

// ---- wind speed ----
{
  const id = 'windChart', canvas = placeCanvas(id);
  new Chart(canvas, {
    type: 'line',
    data: { datasets: [
      { label: '\u00b1\u03c3 upper', data: windPoints.map(p => ({ x: p[0], y: p[1] + p[2] })), borderWidth: 1, borderColor: COL.bandEdge, pointRadius: 0, fill: false, order: 4 },
      { label: '\u00b11\u03c3 propagated error', data: windPoints.map(p => ({ x: p[0], y: p[1] - p[2] })), borderWidth: 1, borderColor: COL.bandEdge, pointRadius: 0, fill: '-1', backgroundColor: COL.band, order: 4 },
      { label: 'Wind speed', data: toXY(windPoints), showLine: false, pointRadius: 2.4, pointBackgroundColor: COL.navy, pointBorderWidth: 0, order: 2 },
      { label: 'Daily mean', data: toXY(windDailyMean), borderColor: COL.red, borderWidth: 1.5, pointRadius: 0, tension: 0, fill: false, order: 1 }
    ] },
    options: baseOptions(id, 'Wind Speed vs. Time', dayAxis(11.558, 21.16), valueAxis(0, 53, windStep, 'Wind speed (m s\u207b\u00b9)')),
    plugins: [framePlugin, insideLegend(id, { x: 606, y: 425, w: 161, h: 50 }, [
      { ds: 1, kind: 'patch', color: COL.band, h: 9, mx: 620.5, tx: 640.5, y: 435.3 },
      { ds: 2, kind: 'dot', color: COL.navy, r: 2, mx: 620.5, tx: 640.5, y: 450.3 },
      { ds: 3, kind: 'line', color: COL.red, mx: 620.5, tx: 640.5, y: 465.5 }
    ])]
  });
}

// ---- altitude ----
{
  const id = 'altChart', canvas = placeCanvas(id);
  const yAxis = valueAxis(6947, 11013, 500, 'Altitude (m AMSL)');
  yAxis.afterBuildTicks = s => { s.ticks = altTicks.map(value => ({ value })); };
  new Chart(canvas, {
    type: 'line',
    data: { datasets: [
      { label: 'Altitude', data: toXY(altPoints), showLine: false, pointRadius: 2.2, pointBackgroundColor: COL.grey, pointBorderWidth: 0, order: 2 },
      { label: 'Daily mean', data: toXY(altDailyMean), borderColor: COL.red, borderWidth: 1.8, pointRadius: 0, tension: 0, fill: false, order: 1 }
    ] },
    options: baseOptions(id, 'Balloon Altitude vs. Time', dayAxis(11.558, 21.16, 'UTC date'), yAxis),
    plugins: [framePlugin]
  });
}

// ---- latitude ----
{
  const id = 'latChart', canvas = placeCanvas(id);
  new Chart(canvas, {
    type: 'scatter',
    data: { datasets: [
      { label: 'Latitude', data: toXY(latPoints), backgroundColor: '#000', borderWidth: 0, pointRadius: 2.5 }
    ] },
    options: baseOptions(id, 'Latitude vs. Time', dayAxis(12.377, 21.127), valueAxis(-90, 90, latStep, 'Latitude (deg)', null, minusFmt)),
    plugins: [framePlugin]
  });
}

// ---- U / V histogram ----
{
  const id = 'histChart', canvas = placeCanvas(id);
  const barStyle = { borderColor: COL.histEdge, borderWidth: 1.2, borderSkipped: false, grouped: false, barPercentage: 1, categoryPercentage: 1 };
  new Chart(canvas, {
    type: 'bar',
    data: { datasets: [
      Object.assign({ label: 'U (zonal)', backgroundColor: COL.histU, order: 2, data: binCenters.map((c, i) => ({ x: c, y: uCounts[i] })).filter(d => d.y > 0) }, barStyle),
      Object.assign({ label: 'V (meridional)', backgroundColor: COL.histV, order: 1, data: binCenters.map((c, i) => ({ x: c, y: vCounts[i] })).filter(d => d.y > 0) }, barStyle)
    ] },
    options: baseOptions(id, 'U and V Wind Components',
      {
        min: -100, max: 100, offset: false, grid: Object.assign({ offset: false }, gridOpts), border: { display: false },
        ticks: { stepSize: speedStep, autoSkip: false, maxRotation: 0, padding: 4, callback: minusFmt },
        title: axisTitle('Wind speed (m s\u207b\u00b9)')
      },
      valueAxis(0, 142.8, countStep, 'Frequency')),
    plugins: [framePlugin, insideLegend(id, { x: 1432, y: 814, w: 119, h: 35 }, [
      { ds: 0, kind: 'patch', color: COL.histU, edge: COL.histEdge, h: 7, mx: 1447.5, tx: 1467.3, y: 823 },
      { ds: 1, kind: 'patch', color: COL.histV, edge: COL.histEdge, h: 7, mx: 1447.5, tx: 1467.3, y: 838.5 }
    ])]
  });
}

// ---- text block ----
const infoHost = document.getElementById('info');
infoLines.forEach((text, i) => {
  const [size, color, y] = INFO_STYLE[i];
  const d = document.createElement('div');
  d.className = 'info';
  d.textContent = text;
  d.style.fontSize = size + 'px';
  d.style.color = color;
  d.style.top = (y - 12) + 'px';
  if (i === infoLines.length - 1) d.style.left = '816px';
  infoHost.appendChild(d);
});
</script>
</body>
</html>
